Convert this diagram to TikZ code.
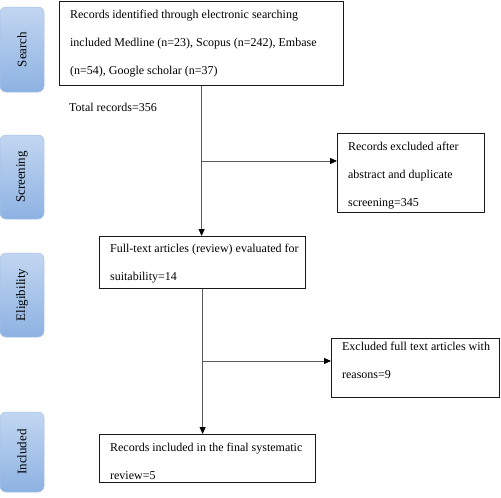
\documentclass[tikz,border=0pt]{standalone}
\usepackage{fontspec}
\setmainfont{Liberation Serif}
\usetikzlibrary{arrows.meta}
\definecolor{sidetop}{RGB}{194,214,241}
\definecolor{sidebot}{RGB}{141,178,226}
\definecolor{sideline}{RGB}{165,194,232}
\definecolor{linkgray}{RGB}{90,90,90}
\newcommand\boxcontent[4]{\parbox[c][#1][t]{#2}{\fontsize{12}{28}\selectfont\leftskip=10.5pt\rightskip=0pt plus 1fil\vspace*{#3}#4}}
\tikzset{
  stagebox/.style={draw=black!90, line width=1.2pt, inner sep=0pt, anchor=north west},
  sidelabel/.style={rounded corners=6pt, draw=sideline, line width=0.5pt,
     top color=sidetop, bottom color=sidebot, minimum width=44pt,
     inner sep=0pt, font=\fontsize{13}{15}\selectfont},
  link/.style={draw=linkgray, line width=0.9pt, -{Triangle[length=7pt,width=6pt,color=black]}}
}
\begin{document}
\begin{tikzpicture}[x=1pt,y=-1pt]
\useasboundingbox (0,0) rectangle (501,498);
% side labels
\node[sidelabel, minimum height=85pt] (search) at (22,49.5) {\rotatebox{90}{Search}};
\node[sidelabel, minimum height=84pt] (screen) at (22,177) {\rotatebox{90}{Screening}};
\node[sidelabel, minimum height=84pt] (elig) at (22,295) {\rotatebox{90}{Eligibility}};
\node[sidelabel, minimum height=80pt] (incl) at (22,452) {\rotatebox{90}{Included}};
% boxes
\node[stagebox] (b1) at (59,1) {\boxcontent{84pt}{284pt}{8.8pt}{Records identified through electronic searching\\included Medline (n=23), Scopus (n=242), Embase\\(n=54), Google scholar (n=37)}};
\node[anchor=base west, inner sep=0pt, font=\fontsize{12}{14}\selectfont] (total) at (69,111) {Total records=356};
\node[stagebox] (b2) at (337,133) {\boxcontent{79pt}{147pt}{8.8pt}{Records excluded after\\abstract and duplicate\\screening=345}};
\node[stagebox] (b3) at (99,236) {\boxcontent{52pt}{206pt}{7.8pt}{Full-text articles (review) evaluated for\\suitability=14}};
\node[stagebox] (b5) at (331,338) {\boxcontent{59pt}{168pt}{3.8pt}{Excluded full text articles with\\reasons=9}};
\node[stagebox] (b4) at (99,434) {\boxcontent{48pt}{216pt}{8.8pt}{Records included in the final systematic\\review=5}};
% connectors
\coordinate (j1) at (201,161);
\coordinate (j2) at (202,361);
\draw[link] (b1.south) -- (b1.south |- b3.north);
\draw[link] (j1) -- (j1 -| b2.west);
\draw[link] (b3.south) -- (b3.south |- b4.north);
\draw[link] (j2) -- (j2 -| b5.west);
\end{tikzpicture}
\end{document}
